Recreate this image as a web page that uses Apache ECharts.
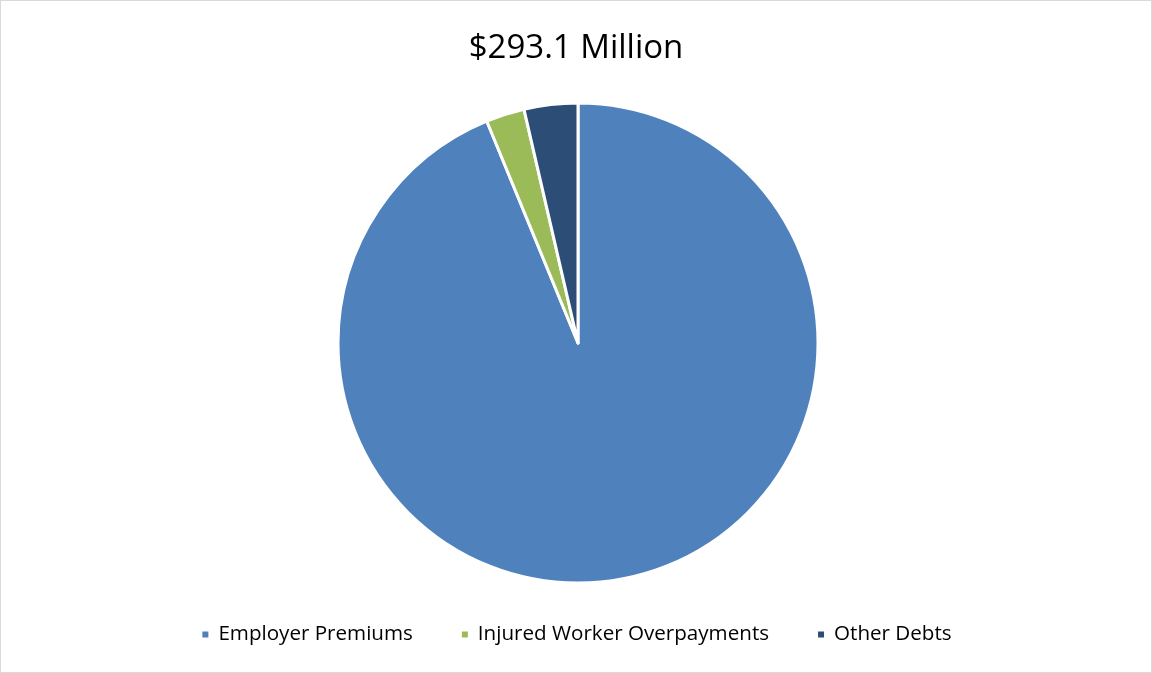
<!DOCTYPE html>
<html>
<head>
<meta charset="utf-8">
<script src="https://cdn.jsdelivr.net/npm/echarts@6/dist/echarts.min.js"></script>
<style>
html,body{margin:0;padding:0;background:#fff;}
#c{position:absolute;left:0;top:0;width:1150px;height:671px;border:1px solid #d9d9d9;}
</style>
</head>
<body>
<div id="c"></div>
<script>
const categories = ['Employer Premiums', 'Injured Worker Overpayments', 'Other Debts'];
const values = [274.9, 7.6, 10.6];
const colors = ['#4F81BD', '#9BBB59', '#2C4D75'];
const titleText = '$293.1 Million';

const chart = echarts.init(document.getElementById('c'));
chart.setOption({
  animation: false,
  title: {
    text: titleText,
    left: 'center',
    top: 26,
    textStyle: {fontFamily: 'Open Sans', fontSize: 33, fontWeight: 'normal', color: '#000'}
  },
  legend: {
    bottom: 22,
    left: 'center',
    itemWidth: 8,
    itemHeight: 8,
    itemGap: 47,
    icon: 'rect',
    textStyle: {fontFamily: 'Open Sans', fontSize: 20.6, color: '#000', padding: [0, 0, 0, 4]},
    data: categories
  },
  series: [{
    type: 'pie',
    center: [577, 342],
    radius: 240,
    startAngle: 90,
    clockwise: true,
    label: {show: false},
    labelLine: {show: false},
    itemStyle: {borderColor: '#fff', borderWidth: 3},
    data: categories.map((n, i) => ({name: n, value: values[i], itemStyle: {color: colors[i]}}))
  }]
});
</script>
</body>
</html>
